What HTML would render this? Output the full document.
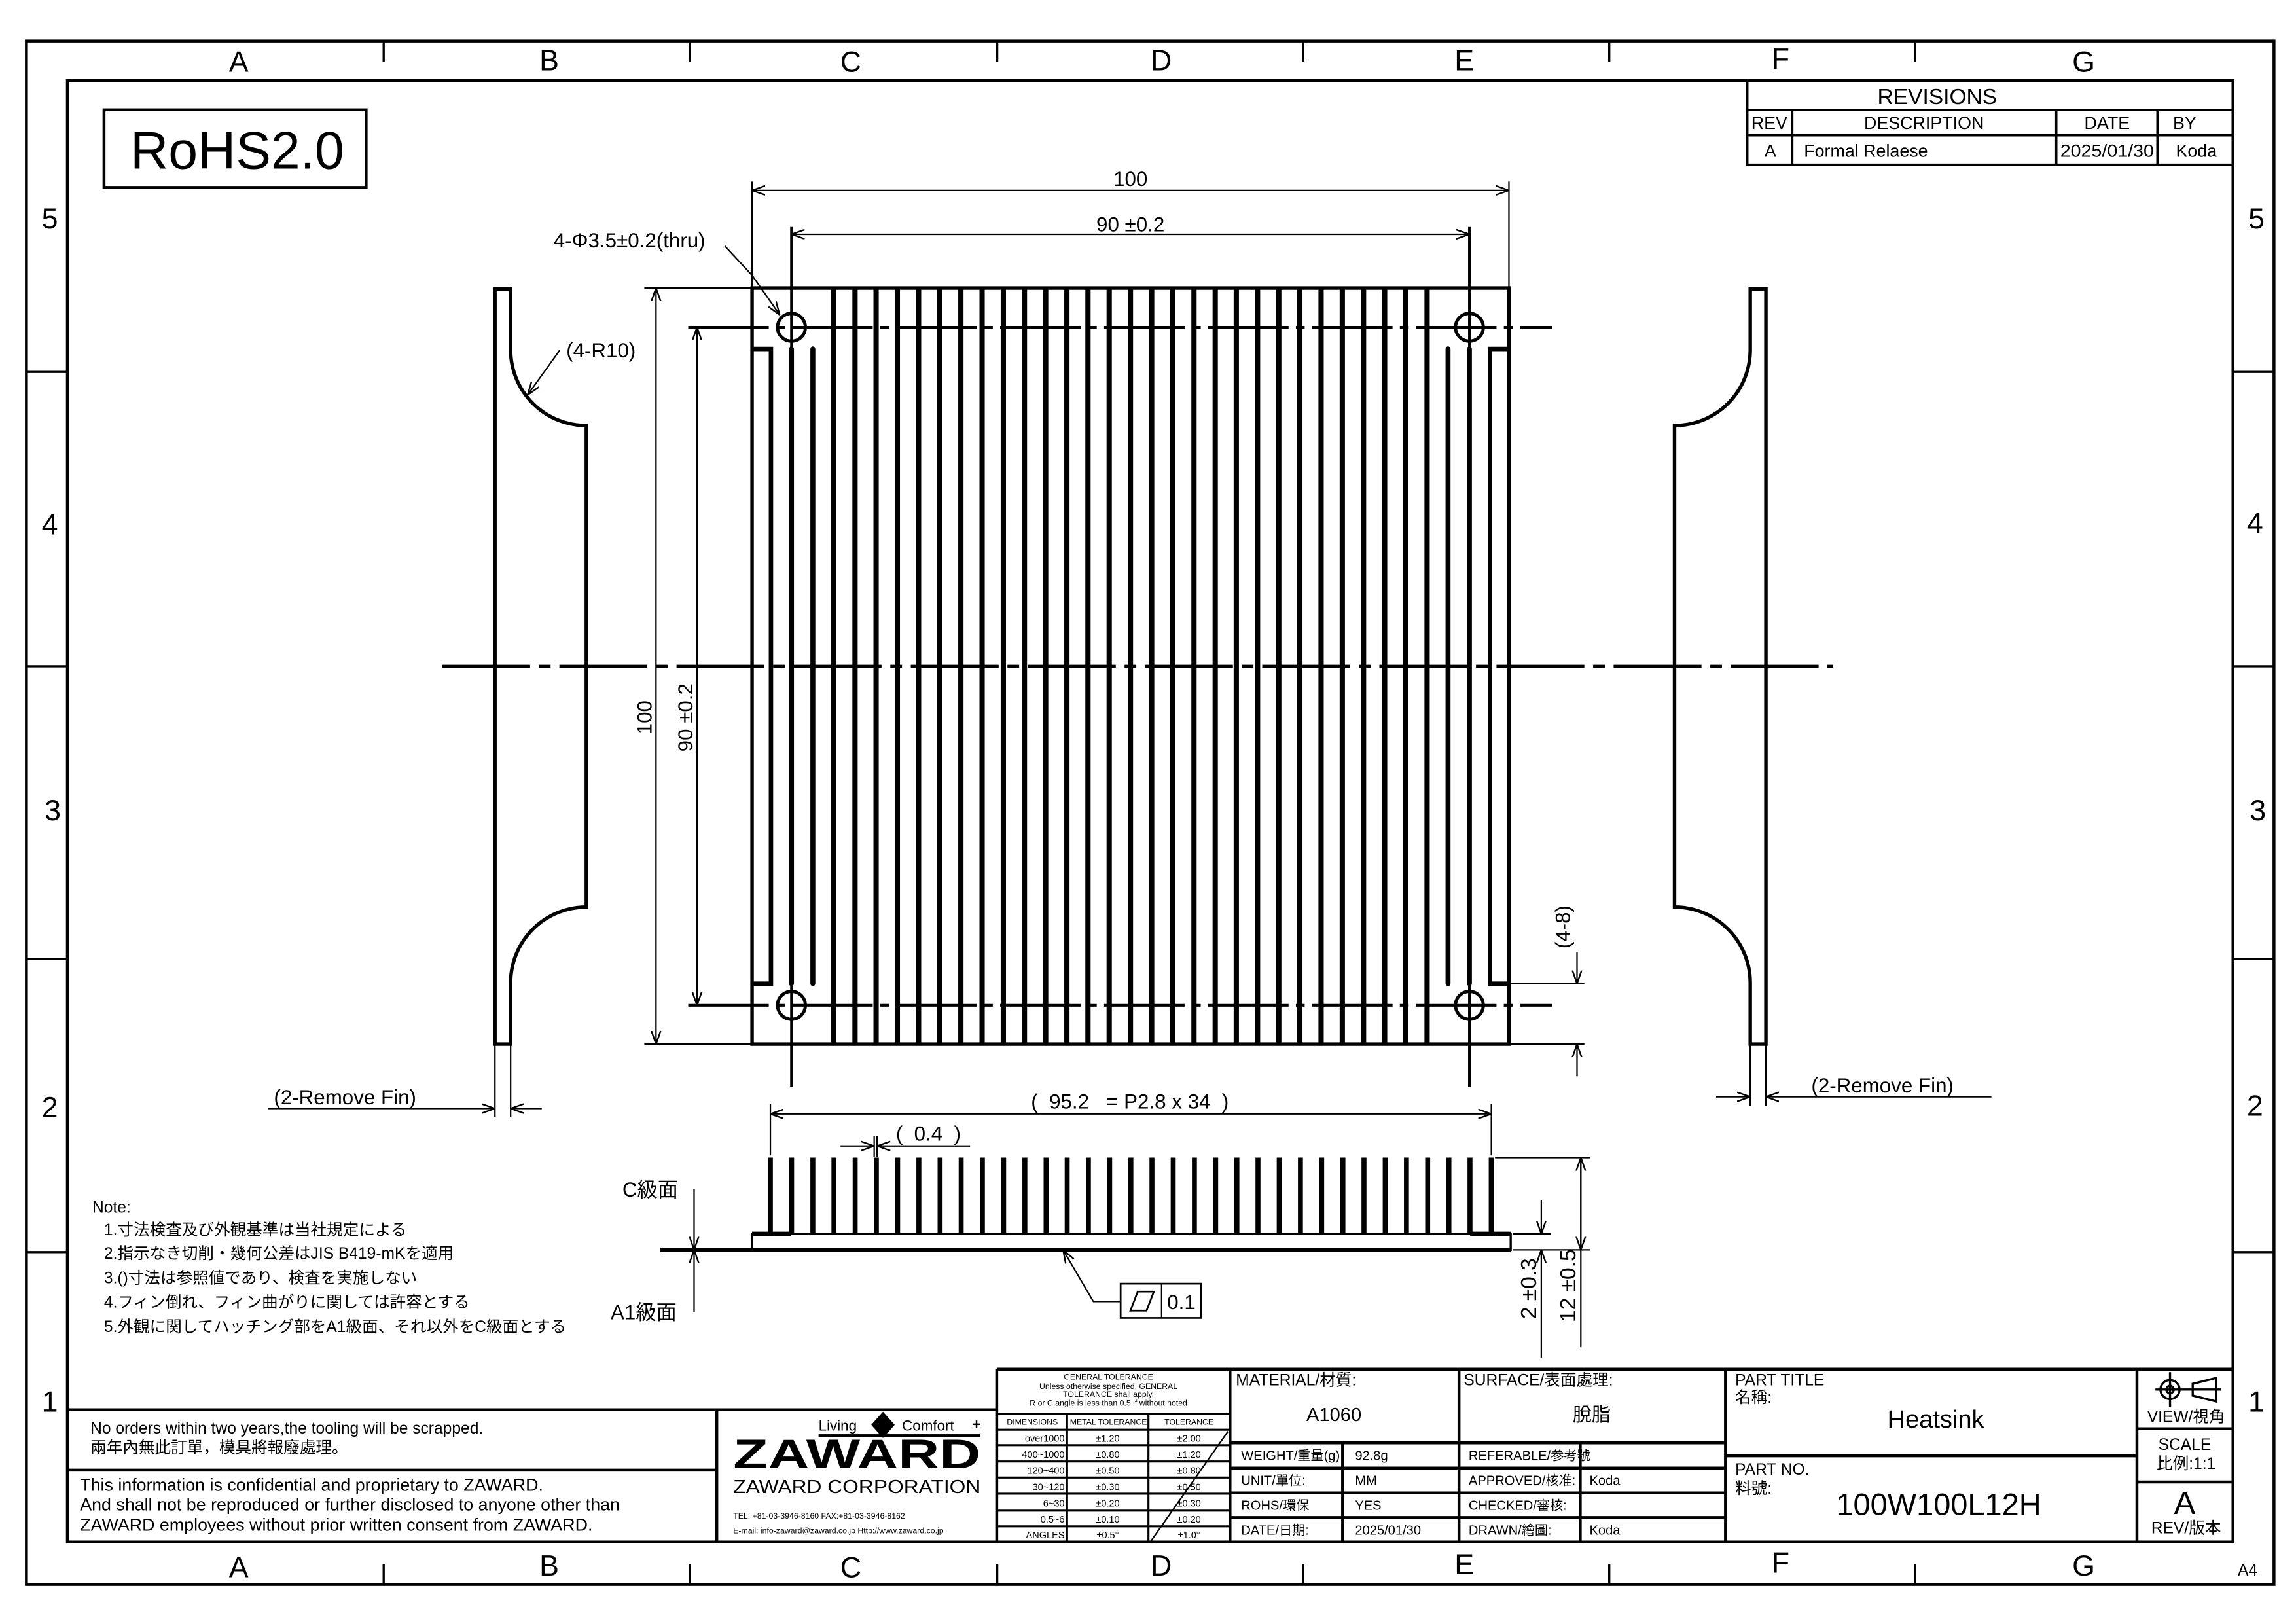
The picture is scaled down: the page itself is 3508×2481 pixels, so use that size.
<!DOCTYPE html>
<html><head><meta charset="utf-8"><style>
html,body{margin:0;padding:0;background:#fff;}
svg{display:block;}
text{font-family:"Liberation Sans","Noto Sans CJK JP",sans-serif;fill:#000;}
</style></head><body>
<svg width="3508" height="2481" viewBox="0 0 1568 1109" xmlns="http://www.w3.org/2000/svg">
<defs>
<marker id="ar" viewBox="0 0 10 10" refX="10" refY="5" markerWidth="9" markerHeight="9" markerUnits="userSpaceOnUse" orient="auto-start-reverse">
<path d="M0,1.5 L10,5 L0,8.5" fill="none" stroke="#000" stroke-width="1.2"/></marker>
</defs>
<rect x="0" y="0" width="1568" height="1109" fill="#fff"/>
<!-- borders -->
<rect x="18" y="28" width="1535" height="1054" fill="none" stroke="#000" stroke-width="2"/>
<rect x="46" y="55" width="1479" height="998" fill="none" stroke="#000" stroke-width="2"/>
<g stroke="#000" stroke-width="1.5">
<path d="M262,28V42M471,28V42M681,28V42M890,28V42M1099,28V42M1308,28V42"/>
<path d="M262,1068V1082M471,1068V1082M681,1068V1082M890,1068V1082M1099,1068V1082M1308,1068V1082"/>
<path d="M18,254H46M18,455H46M18,655H46M18,855H46"/>
<path d="M1525,254H1553M1525,455H1553M1525,655H1553M1525,855H1553"/>
</g>
<g font-size="20" text-anchor="middle">
<text x="163" y="49">A</text><text x="375" y="48">B</text><text x="581" y="49">C</text><text x="793" y="48">D</text><text x="1000" y="48">E</text><text x="1216" y="47">F</text><text x="1423" y="49">G</text>
<text x="163" y="1077">A</text><text x="375" y="1076">B</text><text x="581" y="1077">C</text><text x="793" y="1076">D</text><text x="1000" y="1075">E</text><text x="1216" y="1074">F</text><text x="1423" y="1076">G</text>
<text x="34" y="156">5</text><text x="34" y="365">4</text><text x="36" y="560">3</text><text x="34" y="763">2</text><text x="34" y="964">1</text>
<text x="1541" y="156">5</text><text x="1540" y="364">4</text><text x="1542" y="560">3</text><text x="1540" y="762">2</text><text x="1541" y="964">1</text>
</g>
<text x="1535" y="1076" font-size="11" text-anchor="middle">A4</text>

<!-- RoHS -->
<rect x="71" y="75" width="179" height="53" fill="none" stroke="#000" stroke-width="2"/>
<text x="162" y="115" font-size="36" text-anchor="middle">RoHS2.0</text>

<!-- Revisions -->
<g stroke="#000" stroke-width="1.6" fill="none">
<path d="M1193.3,55V112.5H1524M1193.3,75.2H1524M1193.3,92.4H1524M1224,75.2V112.5M1404.3,75.2V112.5M1473.4,75.2V112.5"/>
</g>
<text x="1323" y="71" font-size="15" text-anchor="middle">REVISIONS</text>
<g font-size="12">
<text x="1196" y="88">REV</text>
<text x="1314" y="88" text-anchor="middle">DESCRIPTION</text>
<text x="1439" y="88" text-anchor="middle">DATE</text>
<text x="1492" y="88" text-anchor="middle">BY</text>
<text x="1209" y="107" text-anchor="middle">A</text>
<text x="1232" y="107">Formal Relaese</text>
<text x="1439" y="107" text-anchor="middle" textLength="64" lengthAdjust="spacingAndGlyphs">2025/01/30</text>
<text x="1500" y="107" text-anchor="middle">Koda</text>
</g>

<!-- main centerline -->
<path d="M302,455H1252" stroke="#000" stroke-width="2" stroke-dasharray="60,6,8,6"/>

<!-- Top view -->
<g stroke="#000" fill="none">
<rect x="513.6" y="196.7" width="516.9" height="516.3" stroke-width="2.4"/>
<path stroke-width="3.6" d="M569.4,196.7V713M583.9,196.7V713M598.3,196.7V713M612.8,196.7V713M627.3,196.7V713M641.8,196.7V713M656.2,196.7V713M670.7,196.7V713M685.2,196.7V713M699.6,196.7V713M714.1,196.7V713M728.6,196.7V713M743,196.7V713M757.5,196.7V713M772,196.7V713M786.5,196.7V713M800.9,196.7V713M815.4,196.7V713M829.9,196.7V713M844.3,196.7V713M858.8,196.7V713M873.3,196.7V713M887.7,196.7V713M902.2,196.7V713M916.7,196.7V713M931.2,196.7V713M945.6,196.7V713M960.1,196.7V713M974.6,196.7V713"/>
<path stroke-width="3.4" stroke-linecap="round" d="M540.5,238.3V671.7M555.1,238.3V671.7M988.9,238.3V671.7M1003.5,238.3V671.7"/>
<path stroke-width="3" d="M513.6,238.3H526.5V671.7H513.6M1030.5,238.3H1017.5V671.7H1030.5"/>
<circle cx="540.5" cy="223.5" r="9.5" stroke-width="2.2"/>
<circle cx="1003.5" cy="223.5" r="9.5" stroke-width="2.2"/>
<circle cx="540.5" cy="686.5" r="9.5" stroke-width="2.2"/>
<circle cx="1003.5" cy="686.5" r="9.5" stroke-width="2.2"/>
<g stroke-width="1.8" stroke-dasharray="55,5,6,5">
<path d="M470,223.5H1060M470,686.5H1060"/>
</g>
<path stroke-width="1.8" d="M540.5,155V245M1003.5,155V245M540.5,668V742M1003.5,668V742"/>
<!-- dims -->
<g stroke-width="1">
<path d="M513.6,124V196M1030.5,124V196"/>
<path d="M513.6,130H1030.5" marker-start="url(#ar)" marker-end="url(#ar)"/>
<path d="M540.5,160H1003.5" marker-start="url(#ar)" marker-end="url(#ar)"/>
<path d="M440,196.7H513M440,713H513"/>
<path d="M448,196.7V713" marker-start="url(#ar)" marker-end="url(#ar)"/>
<path d="M476,223.5V686.5" marker-start="url(#ar)" marker-end="url(#ar)"/>
<path d="M1030.5,671.7H1082M1030.5,713H1082"/>
<path d="M1077,650V671.7" marker-end="url(#ar)"/>
<path d="M1077,735V713" marker-end="url(#ar)"/>
<path d="M495,168L513.6,188L532.5,215" marker-end="url(#ar)"/>
</g>
</g>
<g font-size="14" text-anchor="middle">
<text x="772" y="127">100</text>
<text x="772" y="158">90 ±0.2</text>
<text x="445" y="490" transform="rotate(-90 445 490)">100</text>
<text x="473" y="490" transform="rotate(-90 473 490)">90 ±0.2</text>
<text x="1072" y="633" transform="rotate(-90 1072 633)">(4-8)</text>
</g>
<text x="378" y="169" font-size="14">4-Φ3.5±0.2(thru)</text>

<!-- Left profile -->
<g stroke="#000" fill="none" stroke-width="2.4">
<path d="M338,197.4H348.7V239.2A51.7,51.7 0 0 0 400.4,290.6V619.4A51.7,51.7 0 0 0 348.7,671V713H338Z"/>
<path d="M1206,197.4H1195.3V239.2A51.7,51.7 0 0 1 1143.6,290.6V619.4A51.7,51.7 0 0 1 1195.3,671V713H1206Z"/>
</g>
<g stroke="#000" fill="none" stroke-width="1">
<path d="M382.2,239.2L360.3,269.7" marker-end="url(#ar)"/>
<path d="M338,713V763M348.7,713V763M1195.3,713V755M1206,713V755"/>
<path d="M183,757H338" marker-end="url(#ar)"/>
<path d="M370,757H348.7" marker-end="url(#ar)"/>
<path d="M1360,749H1206" marker-end="url(#ar)"/>
<path d="M1172,749H1195.3" marker-end="url(#ar)"/>
</g>
<text x="386.7" y="244" font-size="14">(4-R10)</text>
<text x="187" y="754" font-size="14">(2-Remove Fin)</text>
<text x="1237" y="746" font-size="14">(2-Remove Fin)</text>

<!-- Side view -->
<g stroke="#000" fill="none">
<path stroke-width="3.4" d="M526.1,790.5V842.6M540.6,790.5V842.6M555.1,790.5V842.6M569.5,790.5V842.6M584,790.5V842.6M598.5,790.5V842.6M613,790.5V842.6M627.5,790.5V842.6M642,790.5V842.6M656.4,790.5V842.6M670.9,790.5V842.6M685.4,790.5V842.6M699.9,790.5V842.6M714.4,790.5V842.6M728.8,790.5V842.6M743.3,790.5V842.6M757.8,790.5V842.6M772.3,790.5V842.6M786.7,790.5V842.6M801.2,790.5V842.6M815.7,790.5V842.6M830.2,790.5V842.6M844.7,790.5V842.6M859.1,790.5V842.6M873.6,790.5V842.6M888.1,790.5V842.6M902.6,790.5V842.6M917.1,790.5V842.6M931.5,790.5V842.6M946,790.5V842.6M960.5,790.5V842.6M975,790.5V842.6M989.5,790.5V842.6M1003.9,790.5V842.6M1018.4,790.5V842.6"/>
<rect x="513.6" y="842.6" width="518.1" height="10.9" stroke-width="1.5"/>
<path stroke-width="3" d="M513.6,842.6H540M1004,842.6H1031.7M451,853.5H1031.7"/>
<path stroke-width="1.2" d="M540,842.6H1004"/>
<path stroke-width="3" d="M451,853.5H466" />
<g stroke-width="1">
<path d="M526.1,754V789M1018.5,754V789"/>
<path d="M526.1,760.7H1018.5" marker-start="url(#ar)" marker-end="url(#ar)"/>
<path d="M597,776V790M599,776V790"/>
<path d="M574,782.6H597" marker-end="url(#ar)"/>
<path d="M662.5,782.6H599" marker-end="url(#ar)"/>
<path d="M1021,790.5H1085.8M1033,842.6H1058.9M1033,853.5H1085.8"/>
<path d="M1079.6,920V790.5" marker-end="url(#ar)"/>
<path d="M1079.6,790.5V853.5" marker-end="url(#ar)"/>
<path d="M1052.6,819.5V842.6" marker-end="url(#ar)"/>
<path d="M1052.6,927V853.5" marker-end="url(#ar)"/>
<path d="M474,812V853.5" marker-end="url(#ar)"/>
<path d="M474,896V853.5" marker-end="url(#ar)"/>
<path d="M726,853.5L746.7,888.8H765.3" marker-start="url(#ar)"/>
<rect x="765.3" y="876.6" width="55" height="23.4" stroke-width="1.2"/>
<path d="M793.3,876.6V900"/>
<path d="M772,895L777,882H788L783,895Z" stroke-width="1.2"/>
</g>
</g>
<text x="771.6" y="757" font-size="14" text-anchor="middle" xml:space="preserve">(  95.2   = P2.8 x 34  )</text>
<text x="634" y="779" font-size="14" text-anchor="middle" xml:space="preserve">(  0.4  )</text>
<text x="806.8" y="894" font-size="14" text-anchor="middle">0.1</text>
<text x="1049" y="880" font-size="15" text-anchor="middle" transform="rotate(-90 1049 880)">2 ±0.3</text>
<text x="1076" y="878" font-size="15" text-anchor="middle" transform="rotate(-90 1076 878)">12 ±0.5</text>
<text x="425" y="817" font-size="14">C級面</text>
<text x="417" y="901" font-size="14">A1級面</text>

<!-- Notes -->
<g font-size="11">
<text x="63" y="828">Note:</text>
<text x="71" y="843.5">1.寸法検査及び外観基準は当社規定による</text>
<text x="71" y="859.6">2.指示なき切削・幾何公差はJIS B419-mKを適用</text>
<text x="71" y="876.3">3.()寸法は参照値であり、検査を実施しない</text>
<text x="71" y="892.9">4.フィン倒れ、フィン曲がりに関しては許容とする</text>
<text x="71" y="909.7">5.外観に関してハッチング部をA1級面、それ以外をC級面とする</text>
</g>

<!-- Title block -->
<g stroke="#000" fill="none" stroke-width="2">
<path d="M46,962.7H680.7M46,1003.9H489.5M489.5,962.7V1053"/>
<path d="M680.7,935H1525M680.7,935V1053"/>
<path d="M1178.4,935V1053M1178.4,994.2H1459.4M1459.4,935V1053M1459.4,975.7H1524M1459.4,1012H1524"/>
<path d="M840,935V1053M996.4,935V1053M840,985.3H1178.4M840,1002.5H1178.4M840,1019.5H1178.4M840,1036.3H1178.4M916.9,985.3V1053M1079.2,985.3V1053"/>
</g>
<g stroke="#000" fill="none" stroke-width="1.4">
<path d="M680.7,965.3H840M680.7,976.3H840M680.7,986.9H840M680.7,998H840M680.7,1009H840M680.7,1020H840M680.7,1031.6H840M680.7,1042.3H840"/>
<path d="M728.7,965.3V1053M784.3,965.3V1053"/>
<path stroke-width="1" d="M838.6,977.5L785.2,1053.5"/>
</g>
<g font-size="5.5" text-anchor="middle">
<text x="757" y="942">GENERAL TOLERANCE</text>
<text x="757" y="948.5">Unless otherwise specified, GENERAL</text>
<text x="757" y="954">TOLERANCE shall apply.</text>
<text x="757" y="960">R or C angle is less than 0.5 if without noted</text>
<text x="705" y="973">DIMENSIONS</text>
<text x="757" y="973">METAL TOLERANCE</text>
<text x="812" y="973">TOLERANCE</text>
</g>
<g font-size="6.5">
<g text-anchor="end">
<text x="727" y="984.5">over1000</text><text x="727" y="995.5">400~1000</text><text x="727" y="1006.5">120~400</text><text x="727" y="1017.5">30~120</text><text x="727" y="1028.8">6~30</text><text x="727" y="1039.8">0.5~6</text><text x="727" y="1050.5">ANGLES</text>
</g>
<g text-anchor="middle">
<text x="756.5" y="984.5">±1.20</text><text x="756.5" y="995.5">±0.80</text><text x="756.5" y="1006.5">±0.50</text><text x="756.5" y="1017.5">±0.30</text><text x="756.5" y="1028.8">±0.20</text><text x="756.5" y="1039.8">±0.10</text><text x="756.5" y="1050.5">±0.5°</text>
<text x="812" y="984.5">±2.00</text><text x="812" y="995.5">±1.20</text><text x="812" y="1006.5">±0.80</text><text x="812" y="1017.5">±0.50</text><text x="812" y="1028.8">±0.30</text><text x="812" y="1039.8">±0.20</text><text x="812" y="1050.5">±1.0°</text>
</g>
</g>
<g font-size="11">
<text x="844" y="946">MATERIAL/材質:</text>
<text x="999.6" y="946">SURFACE/表面處理:</text>
</g>
<text x="911" y="970.5" font-size="13" text-anchor="middle">A1060</text>
<text x="1087" y="970.5" font-size="13" text-anchor="middle">脫脂</text>
<g font-size="9">
<text x="847.6" y="997">WEIGHT/重量(g)</text><text x="925.4" y="997">92.8g</text>
<text x="1003" y="997">REFERABLE/参考號</text>
<text x="847.6" y="1014">UNIT/單位:</text><text x="925.4" y="1014">MM</text>
<text x="1003" y="1014">APPROVED/核准:</text><text x="1085.5" y="1014">Koda</text>
<text x="847.6" y="1031">ROHS/環保</text><text x="925.4" y="1031">YES</text>
<text x="1003" y="1031">CHECKED/審核:</text>
<text x="847.6" y="1048">DATE/日期:</text><text x="925.4" y="1048">2025/01/30</text>
<text x="1003" y="1048">DRAWN/繪圖:</text><text x="1085.5" y="1048">Koda</text>
</g>
<!-- ZAWARD logo -->
<text x="559" y="977" font-size="10">Living</text>
<path d="M603,964L611,973L603,982L595,973Z" fill="#000"/>
<text x="616" y="977" font-size="10">Comfort</text>
<text x="664" y="976" font-size="10" font-weight="bold">+</text>
<rect x="559" y="979.4" width="110.6" height="2" fill="#000"/>
<text x="500.7" y="1002.7" font-size="28" font-weight="bold" textLength="169" lengthAdjust="spacingAndGlyphs" style="font-family:'Liberation Sans',sans-serif;font-weight:900">ZAWARD</text>
<text x="500.7" y="1019.5" font-size="13" textLength="169" lengthAdjust="spacingAndGlyphs">ZAWARD CORPORATION</text>
<text x="500.7" y="1037" font-size="5.5">TEL: +81-03-3946-8160       FAX:+81-03-3946-8162</text>
<text x="500.7" y="1047" font-size="5.5">E-mail: info-zaward@zaward.co.jp   Http://www.zaward.co.jp</text>
<!-- left text -->
<text x="61.7" y="979" font-size="11">No orders within two years,the tooling will be scrapped.</text>
<text x="61.7" y="992" font-size="11" fill="#333">兩年內無此訂單，模具將報廢處理。</text>
<text x="54.6" y="1018" font-size="12">This information is confidential and proprietary to ZAWARD.</text>
<text x="54.6" y="1031.5" font-size="12">And shall not be reproduced or further disclosed to anyone other than</text>
<text x="54.6" y="1045.2" font-size="12">ZAWARD employees without prior written consent from ZAWARD.</text>
<!-- Part title -->
<text x="1185" y="946" font-size="11">PART TITLE</text>
<text x="1185" y="958" font-size="11">名稱:</text>
<text x="1322" y="975" font-size="17" text-anchor="middle">Heatsink</text>
<text x="1185" y="1007" font-size="11">PART NO.</text>
<text x="1185" y="1020" font-size="11">料號:</text>
<text x="1324" y="1034.5" font-size="21" text-anchor="middle">100W100L12H</text>
<!-- view icon -->
<g stroke="#000" fill="none" stroke-width="1.5">
<circle cx="1482" cy="948.9" r="6.5"/><circle cx="1482" cy="948.9" r="2.5"/>
<path d="M1472,948.9H1517M1482,937V961M1497.5,945V953L1513.5,957V941Z"/>
</g>
<text x="1493" y="971" font-size="11" text-anchor="middle">VIEW/視角</text>
<text x="1492" y="990" font-size="11" text-anchor="middle">SCALE</text>
<text x="1493" y="1003" font-size="11" text-anchor="middle">比例:1:1</text>
<text x="1492" y="1034" font-size="22" text-anchor="middle">A</text>
<text x="1493" y="1047" font-size="11" text-anchor="middle">REV/版本</text>
</svg>
</body></html>
